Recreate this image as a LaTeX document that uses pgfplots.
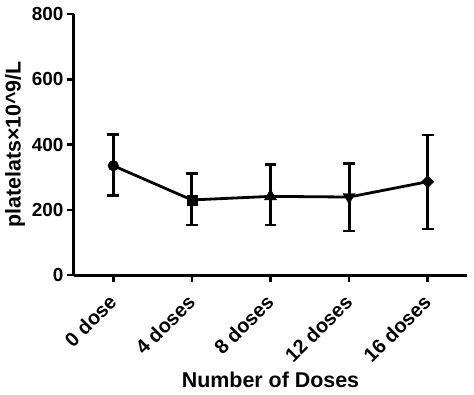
\documentclass[border=0pt]{standalone}
\usepackage{pgfplots}
\pgfplotsset{compat=1.18}
\usepackage{fontspec}
\setmainfont{Liberation Sans}
\begin{document}
\begin{tikzpicture}
\path (-74bp,-120bp) rectangle (400bp,275bp);
\begin{axis}[
  at={(0,0)}, anchor=south west,
  scale only axis, width=393bp, height=261bp,
  xmin=-0.5, xmax=4.5, ymin=0, ymax=800,
  axis x line*=bottom, axis y line*=left,
  axis line style={line width=3bp, -},
  xtick={0,...,4},
  xticklabels={0 dose,4 doses,8 doses,12 doses,16 doses},
  ytick={0,200,...,800},
  tick align=outside, major tick length=7bp,
  tick style={line width=2.5bp, black},
  ticklabel style={font=\fontsize{19}{19}\selectfont\bfseries},
  /pgf/number format/assume math mode=true,
  xticklabel style={anchor=east, xshift=2bp, yshift=-14bp, rotate=45, font=\fontsize{20}{20}\selectfont\bfseries},
  xlabel={Number of Doses},
  ylabel={platelats×10\textasciicircum 9/L},
  label style={font=\fontsize{21.5}{21.5}\selectfont\bfseries},
  clip=false,
]
\addplot[black, line width=2.8bp, no markers,
  error bars/.cd, y dir=both, y explicit,
  error bar style={line width=2.8bp, black},
  error mark options={rotate=90, mark size=5.8bp, line width=2.8bp, black}]
  coordinates {
  (0,335) += (0,96) -= (0,92)
  (1,230) += (0,82) -= (0,77)
  (2,241) += (0,97) -= (0,88)
  (3,239) += (0,102) -= (0,104)
  (4,286) += (0,143) -= (0,145)
  };
\addplot[only marks, mark=*, mark size=5.3bp, black] coordinates {(0,335)};
\addplot[only marks, mark=square*, mark size=5bp, black] coordinates {(1,230)};
\addplot[only marks, mark=triangle*, mark size=7bp, black] coordinates {(2,241)};
\addplot[only marks, mark=triangle*, mark size=7bp, mark options={rotate=180}, black] coordinates {(3,239)};
\addplot[only marks, mark=square*, mark size=4.3bp, mark options={rotate=45}, black] coordinates {(4,286)};
\end{axis}
\end{tikzpicture}
\end{document}
